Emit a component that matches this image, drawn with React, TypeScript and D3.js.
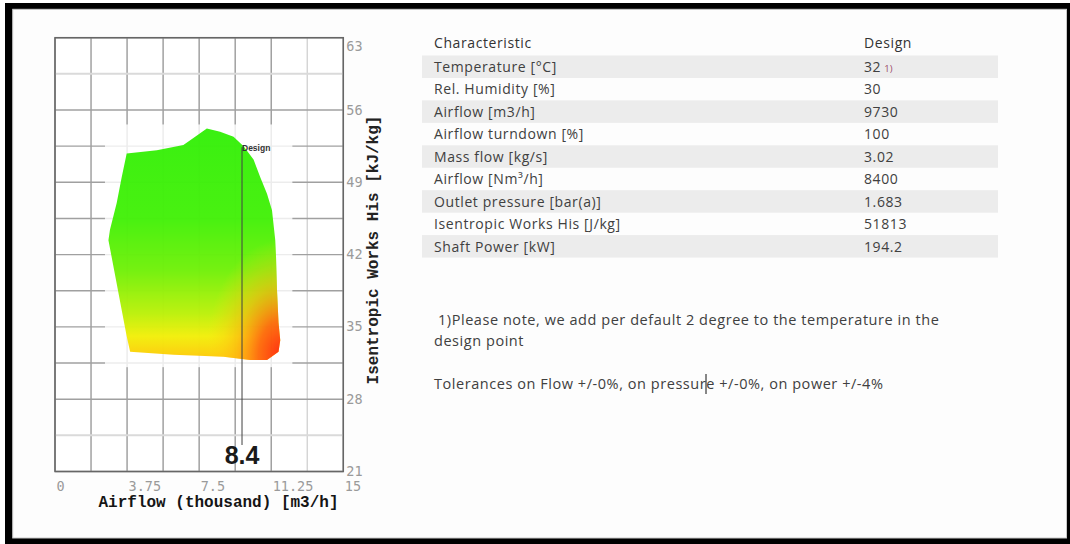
import React from "react";
import * as d3 from "d3";

// ---------- data ----------
const xTicks = [0, 3.75, 7.5, 11.25, 15];
const yTicks = [21, 28, 35, 42, 49, 56, 63];
const xGridStep = 1.875;
const yGridStep = 3.5;
const lightXGrid = [13.125];
const lightYGrid = [59.5, 24.5];

// operating envelope [airflow (thousand m3/h), isentropic work (kJ/kg)]
const envelope: [number, number][] = [
  [3.73, 51.8], [5.3, 52.1], [6.68, 52.6], [7.2, 53.3], [7.9, 54.2],
  [8.59, 53.9], [9.29, 53.4], [9.81, 52.5], [10.33, 51.2], [10.68, 49.5],
  [11.03, 47.9], [11.29, 46.3], [11.46, 43.4], [11.5, 41.8], [11.55, 38.6],
  [11.63, 35.4], [11.72, 33.7], [11.63, 32.6], [11.03, 31.8], [10.16, 31.8],
  [8.77, 32.1], [6.16, 32.3], [3.91, 32.6], [3.73, 34.1], [2.78, 43.4],
  [2.86, 44.4], [3.21, 47.0], [3.47, 49.5],
];
const mapExtentX = [2.6, 12.35];
const mapExtentY = [31.1, 54.6];
const designAirflow = 9.73;
const designWork = 51.813;
const designLabel = "Design";
const bigValue = "8.4";

const tableHeader = ["Characteristic", "Design"];
const tableLabels = [
  "Temperature [°C]",
  "Rel. Humidity [%]",
  "Airflow [m3/h]",
  "Airflow turndown [%]",
  "Mass flow [kg/s]",
  "Airflow [Nm³/h]",
  "Outlet pressure [bar(a)]",
  "Isentropic Works His [J/kg]",
  "Shaft Power [kW]",
];
const tableValues = ["32", "30", "9730", "100", "3.02", "8400", "1.683", "51813", "194.2"];
const noteLines = [
  "1)Please note, we add per default 2 degree to the temperature in the",
  "design point",
];
const toleranceLine = "Tolerances on Flow +/-0%, on pressure +/-0%, on power +/-4%";

// ---------- component ----------
export default function App() {
  const W = 1070, H = 544;
  const x = d3.scaleLinear().domain([0, 15]).range([55, 343.3]);
  const y = d3.scaleLinear().domain([21, 63]).range([471.5, 37.7]);
  const xGrid = d3.range(0, 15 + 1e-6, xGridStep);
  const yGrid = d3.range(21, 63 + 1e-6, yGridStep);
  const line = d3.line<[number, number]>().x(d => x(d[0])).y(d => y(d[1])).curve(d3.curveLinearClosed);

  const [x0, x1] = x.range();
  const [y0, y1] = [y(63), y(21)];

  const rowY0 = 72, rowH = 22.45;
  const tblX = 434, valX = 864;
  const tf = "'Open Sans', sans-serif";

  const rcx = x(11.75), rcy = y(32.3);
  const isLight = (arr: number[], v: number) => arr.some(l => Math.abs(l - v) < 1e-6);

  return (
    <svg width={W} height={H} style={{ position: "absolute", left: 0, top: 0, display: "block" }}>
      <defs>
        <linearGradient id="vgrad" gradientUnits="userSpaceOnUse" x1="0" y1={y(54.5)} x2="0" y2={y(31.8)}>
          <stop offset="0" stopColor="#2bef00" />
          <stop offset="0.4" stopColor="#3cf000" />
          <stop offset="0.62" stopColor="#6cf000" />
          <stop offset="0.8" stopColor="#b8f000" />
          <stop offset="0.9" stopColor="#f2ee00" />
          <stop offset="1" stopColor="#ffc400" />
        </linearGradient>
        <radialGradient id="rgrad" gradientUnits="userSpaceOnUse" cx="0" cy="0" r="1"
          gradientTransform={`translate(${rcx} ${rcy}) scale(75 115)`}>
          <stop offset="0" stopColor="#ff2000" stopOpacity="1" />
          <stop offset="0.3" stopColor="#ff5a00" stopOpacity="0.9" />
          <stop offset="0.6" stopColor="#ffa800" stopOpacity="0.55" />
          <stop offset="1" stopColor="#ffe000" stopOpacity="0" />
        </radialGradient>
      </defs>

      {/* frame */}
      <rect x={0} y={0} width={W} height={H} fill="#fff" />
      <rect x={5} y={3} width={W - 5} height={H - 3} fill="#000" />
      <rect x={12.7} y={9.3} width={1066.5 - 12.7} height={538 - 9.3} fill="#fdfdfd" stroke="#c8c8c8" strokeWidth={1} />

      {/* grid */}
      <rect x={x0} y={y0} width={x1 - x0} height={y1 - y0} fill="#fff" />
      {xGrid.map(v => (
        <line key={"gx" + v} x1={x(v)} x2={x(v)} y1={y0} y2={y1}
          stroke={isLight(lightXGrid, v) ? "#d4d4d4" : "#9a9a9a"} strokeWidth={1.4} />
      ))}
      {yGrid.map(v => (
        <line key={"gy" + v} x1={x0} x2={x1} y1={y(v)} y2={y(v)}
          stroke={isLight(lightYGrid, v) ? "#dadada" : "#a0a0a0"}
          strokeWidth={isLight(lightYGrid, v) ? 2 : 1.4} />
      ))}
      <rect x={x0} y={y0} width={x1 - x0} height={y1 - y0} fill="none" stroke="#666" strokeWidth={1.5} />

      {/* map image background */}
      <rect x={x(mapExtentX[0])} y={y(mapExtentY[1])} width={x(mapExtentX[1]) - x(mapExtentX[0])}
        height={y(mapExtentY[0]) - y(mapExtentY[1])} fill="#fff" opacity={0.8} />

      {/* envelope */}
      <g opacity={0.93}>
        <path d={line(envelope) || ""} fill="url(#vgrad)" />
        <path d={line(envelope) || ""} fill="url(#rgrad)" />
      </g>

      {/* design marker */}
      <line x1={x(designAirflow)} x2={x(designAirflow)} y1={y(designWork) - 6} y2={445}
        stroke="#444" strokeWidth={1.2} opacity={0.85} />
      <text x={x(designAirflow)} y={y(designWork) - 2} fontFamily="'Liberation Sans', Arial, sans-serif"
        fontWeight="bold" fontSize={8.5} fill="#333">{designLabel}</text>
      <text x={x(designAirflow)} y={464} textAnchor="middle" fontFamily="'Liberation Sans', Arial, sans-serif"
        fontWeight="bold" fontSize={25} fill="#1a1a1a">{bigValue}</text>

      {/* x tick labels */}
      {xTicks.map(v => (
        <text key={"xt" + v} x={x(v) + 1.5} y={490.5} fontFamily="'DejaVu Sans Mono', monospace"
          fontSize={13.5} fill="#9a9a9a">{String(v)}</text>
      ))}
      {/* y tick labels */}
      {yTicks.map(v => (
        <text key={"yt" + v} x={x1 + 3} y={(v === 63 ? y(v) + 9 : y(v)) + 4.5}
          fontFamily="'DejaVu Sans Mono', monospace" fontSize={13.5} fill="#9a9a9a">{String(v)}</text>
      ))}
      {/* axis titles */}
      <text x={218.5} y={506.5} textAnchor="middle" fontFamily="'Liberation Mono', 'Courier New', monospace"
        fontWeight="bold" fontSize={16} fill="#151515">Airflow (thousand) [m3/h]</text>
      <text transform={`translate(377.5 ${250}) rotate(-90)`} textAnchor="middle"
        fontFamily="'Liberation Mono', 'Courier New', monospace" fontWeight="bold" fontSize={16}
        fill="#222">Isentropic Works His [kJ/kg]</text>

      {/* table */}
      {tableLabels.map((_, i) => i % 2 === 0 ? (
        <rect key={"st" + i} x={422} y={rowY0 + i * rowH - 16.5} width={998 - 422} height={rowH} fill="#ececec" />
      ) : null)}
      <text x={tblX} y={47.7} fontFamily={tf} fontSize={14} letterSpacing={0.6} fill="#333">{tableHeader[0]}</text>
      <text x={valX} y={47.7} fontFamily={tf} fontSize={14} letterSpacing={0.6} fill="#333">{tableHeader[1]}</text>
      {tableLabels.map((l, i) => (
        <text key={"tl" + i} x={tblX} y={rowY0 + i * rowH} fontFamily={tf} fontSize={14} letterSpacing={0.6} fill="#404040">{l}</text>
      ))}
      {tableValues.map((v, i) => (
        <text key={"tv" + i} x={valX} y={rowY0 + i * rowH} fontFamily={tf} fontSize={14} letterSpacing={0.6} fill="#404040">
          {v}
          {i === 0 ? <tspan dx={3} fontSize={9.5} letterSpacing={0} fill="#9a4d6a">1)</tspan> : null}
        </text>
      ))}

      {/* notes */}
      <text x={438} y={324.5} fontFamily={tf} fontSize={14.5} letterSpacing={0.55} fill="#404040">{noteLines[0]}</text>
      <text x={434} y={345.5} fontFamily={tf} fontSize={14.5} letterSpacing={0.55} fill="#404040">{noteLines[1]}</text>
      <text x={434} y={389} fontFamily={tf} fontSize={14.5} letterSpacing={0.55} fill="#404040">{toleranceLine}</text>
      <line x1={706} x2={706} y1={374} y2={394} stroke="#111" strokeWidth={1} />
    </svg>
  );
}
